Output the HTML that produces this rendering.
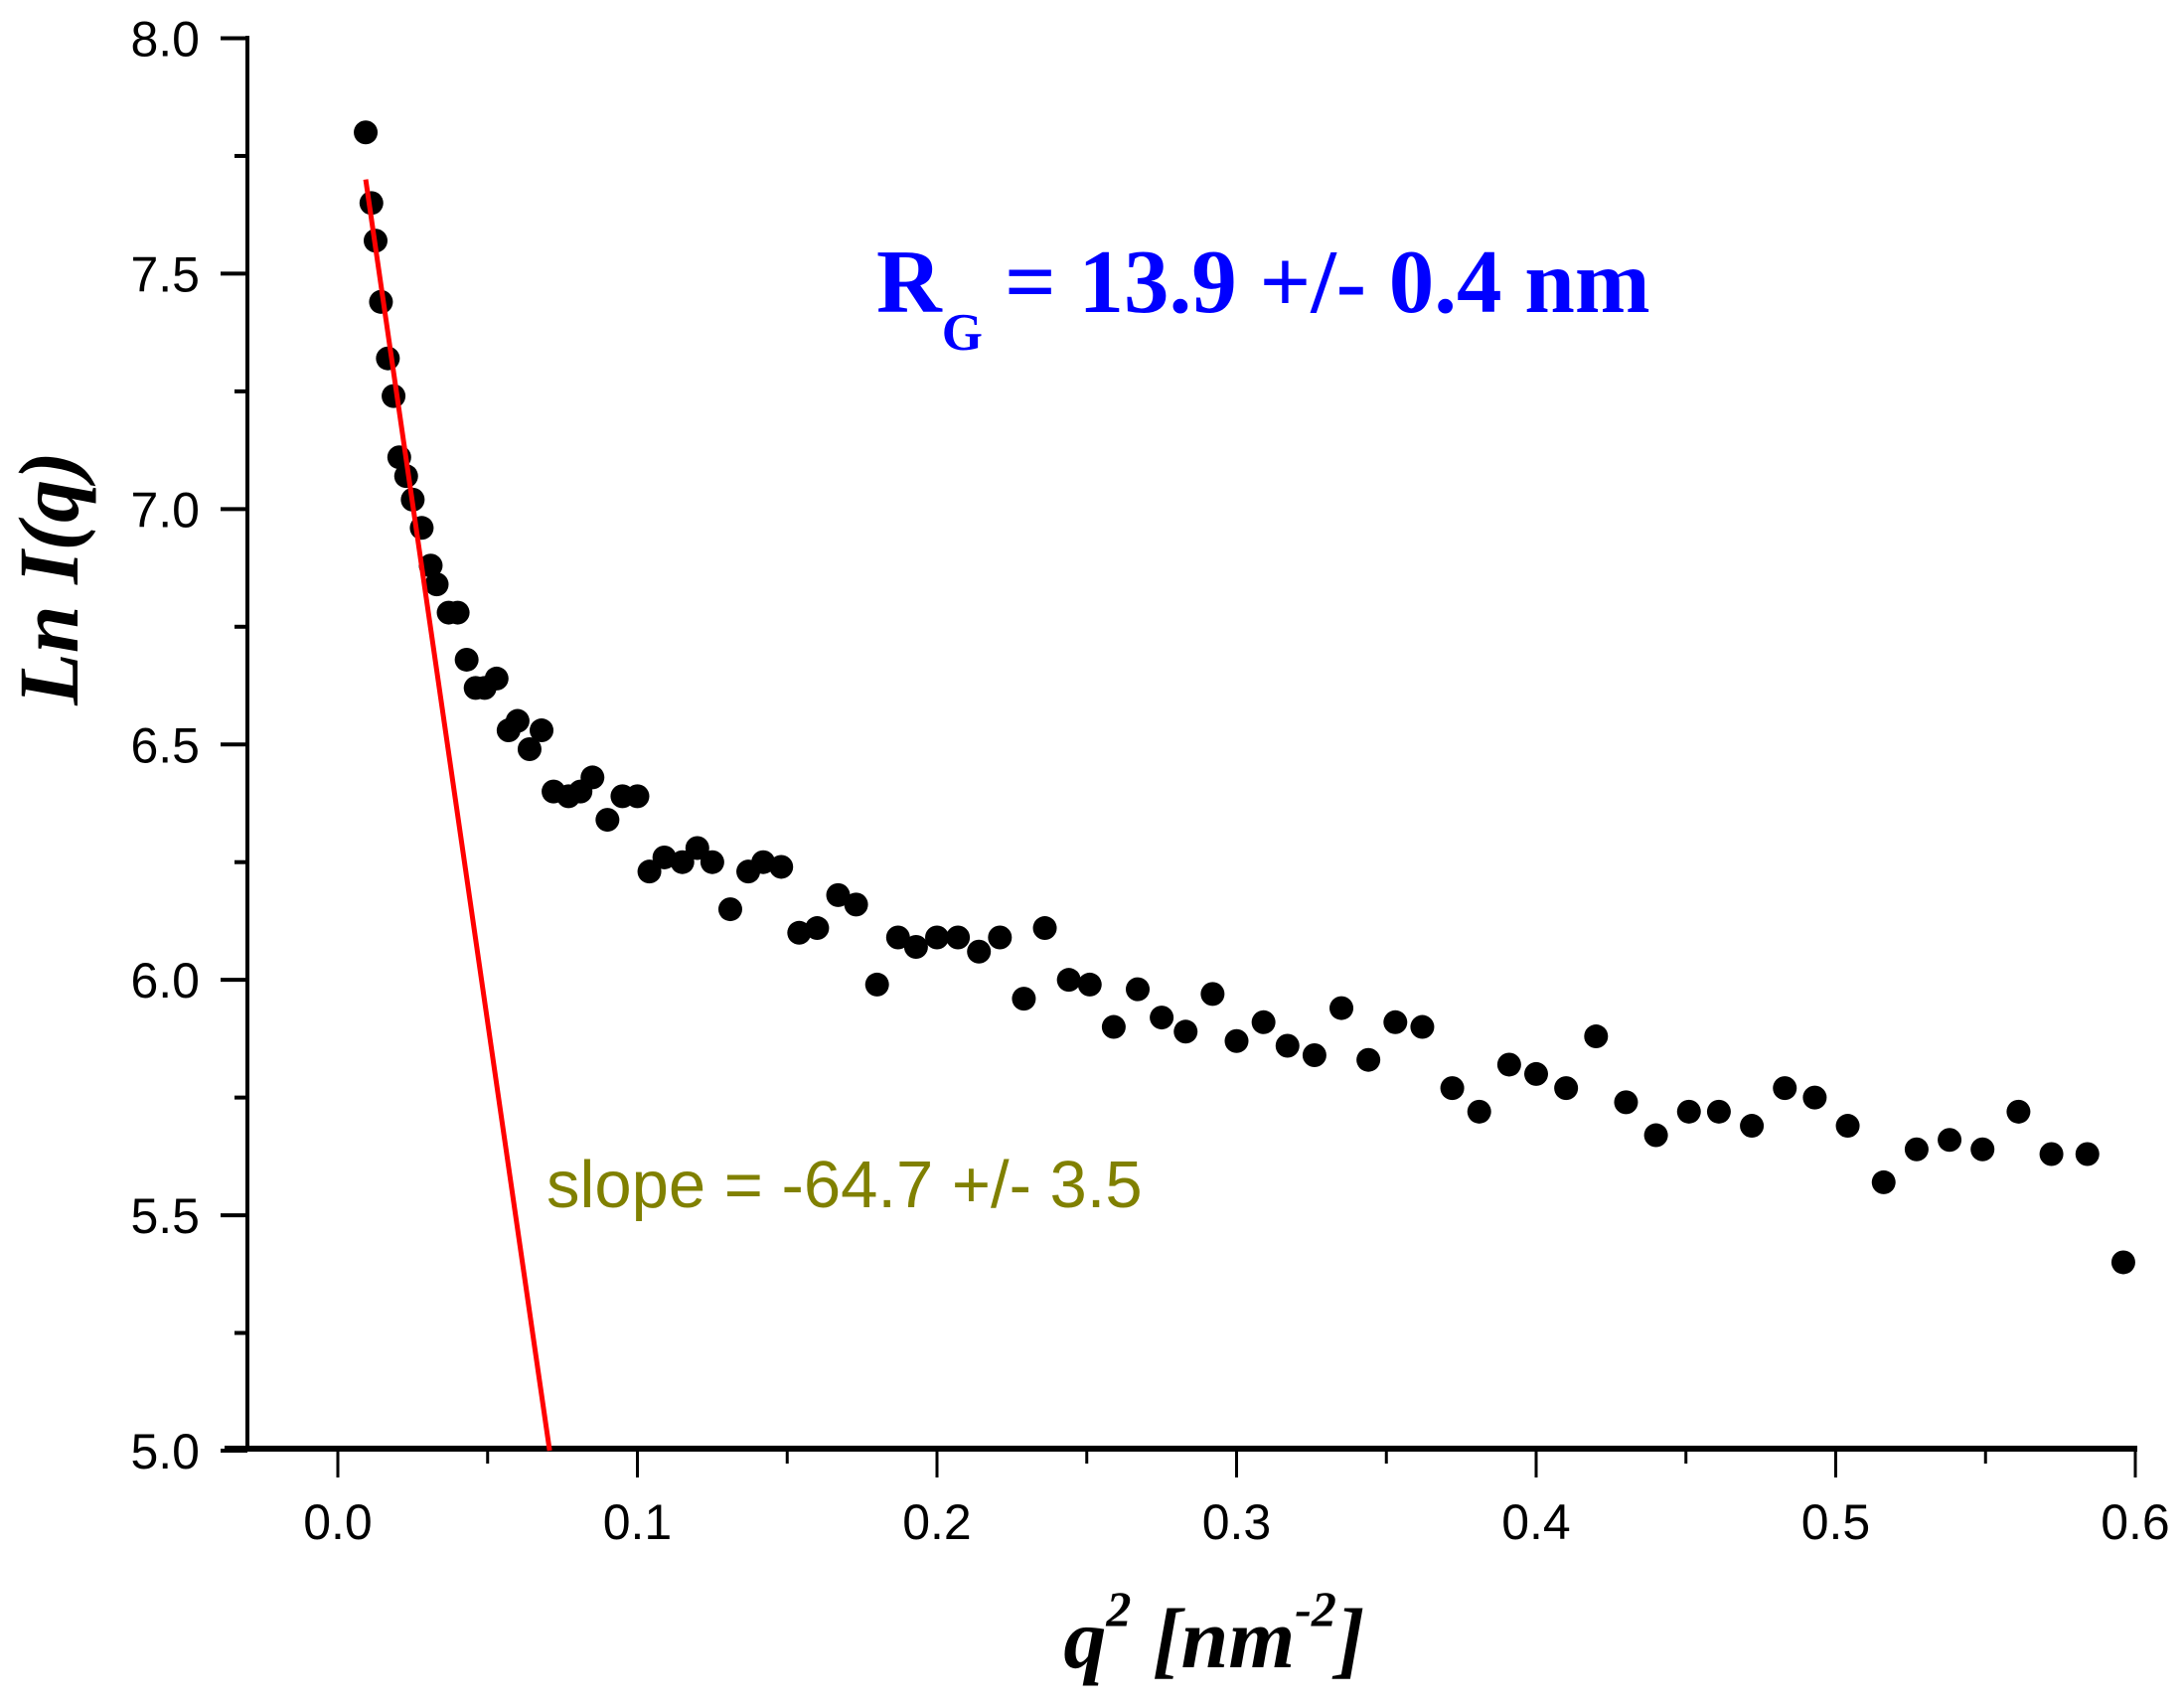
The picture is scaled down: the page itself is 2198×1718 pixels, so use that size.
<!DOCTYPE html>
<html><head><meta charset="utf-8"><style>
html,body{margin:0;padding:0;background:#fff;}
svg{display:block;}
</style></head><body>
<svg id="chart" width="2198" height="1718" viewBox="0 0 2198 1718" xmlns="http://www.w3.org/2000/svg">
<g id="axes"></g>
<g id="marks"></g>
<text x="882" y="314" font-family="Liberation Serif, serif" font-weight="bold" font-size="91" fill="#0000ff">R<tspan font-size="53" dy="38">G</tspan><tspan dy="-38" dx="22">= 13.9 +/- 0.4 nm</tspan></text>
<text x="550" y="1215" font-family="Liberation Sans, sans-serif" font-size="67" fill="#808000">slope = -64.7 +/- 3.5</text>
<text transform="translate(78,582) rotate(-90)" text-anchor="middle" font-family="Liberation Serif, serif" font-weight="bold" font-style="italic" font-size="86" fill="#000">Ln I(q)</text>
<text x="1222" y="1678" text-anchor="middle" font-family="Liberation Serif, serif" font-weight="bold" font-style="italic" font-size="86" fill="#000">q<tspan font-size="50" dy="-42">2</tspan><tspan dy="42"> [nm</tspan><tspan font-size="50" dy="-42">-2</tspan><tspan dy="42">]</tspan></text>
</svg>
<script>
const xs = [0.0093,0.0112,0.0126,0.0144,0.0167,0.0186,0.0205,0.0228,0.025,0.028,0.031,0.033,0.037,0.040,0.043,0.046,0.049,0.053,0.057,0.060,0.064,0.068,0.072,0.077,0.081,0.085,0.090,0.095,0.100,0.104,0.109,0.115,0.120,0.125,0.131,0.137,0.142,0.148,0.154,0.160,0.167,0.173,0.180,0.187,0.193,0.200,0.207,0.214,0.221,0.229,0.236,0.244,0.251,0.259,0.267,0.275,0.283,0.292,0.300,0.309,0.317,0.326,0.335,0.344,0.353,0.362,0.372,0.381,0.391,0.400,0.410,0.420,0.430,0.440,0.451,0.461,0.472,0.483,0.493,0.504,0.516,0.527,0.538,0.549,0.561,0.572,0.584,0.596];
const ys = [7.80,7.65,7.57,7.44,7.32,7.24,7.11,7.07,7.02,6.96,6.88,6.84,6.78,6.78,6.68,6.62,6.62,6.64,6.53,6.55,6.49,6.53,6.40,6.39,6.40,6.43,6.34,6.39,6.39,6.23,6.26,6.25,6.28,6.25,6.15,6.23,6.25,6.24,6.10,6.11,6.18,6.16,5.99,6.09,6.07,6.09,6.09,6.06,6.09,5.96,6.11,6.00,5.99,5.90,5.98,5.92,5.89,5.97,5.87,5.91,5.86,5.84,5.94,5.83,5.91,5.90,5.77,5.72,5.82,5.80,5.77,5.88,5.74,5.67,5.72,5.72,5.69,5.77,5.75,5.69,5.57,5.64,5.66,5.64,5.72,5.63,5.63,5.40];
const fitX = [0.0093,0.0707];
const fitY = [7.70,5.00];
const xTicks = [0.0,0.1,0.2,0.3,0.4,0.5,0.6];
const xTickLabels = ["0.0","0.1","0.2","0.3","0.4","0.5","0.6"];
const yTicks = [5.0,5.5,6.0,6.5,7.0,7.5,8.0];
const yTickLabels = ["5.0","5.5","6.0","6.5","7.0","7.5","8.0"];

const NS="http://www.w3.org/2000/svg";
const X = v => 340 + (v-0)*(2149-340)/0.6;
const Y = v => 1460 - (v-5)*(1460-38.5)/3;
function mk(tag, attrs, parent){const e=document.createElementNS(NS,tag);for(const k in attrs)e.setAttribute(k,attrs[k]);parent.appendChild(e);return e;}
const axes=document.getElementById('axes'), marks=document.getElementById('marks');
let e;
e=mk('line',{x1:249,y1:36,x2:249,y2:1460,stroke:'#000','stroke-width':4},axes);


e=mk('line',{x1:226,y1:1458,x2:2151,y2:1458,stroke:'#000','stroke-width':6},axes);


xTicks.forEach((t,i)=>{
  e=mk('line',{x1:X(t),y1:1458,x2:X(t),y2:1487,stroke:'#000','stroke-width':3},axes);
  
  
  e=mk('text',{x:X(t),y:1549,'text-anchor':'middle','font-family':'Liberation Sans, sans-serif','font-size':50,fill:'#000'},axes);
  e.textContent=xTickLabels[i];
  
  
  if(i<xTicks.length-1){
    e=mk('line',{x1:X(t+0.05),y1:1458,x2:X(t+0.05),y2:1473,stroke:'#000','stroke-width':3},axes);
    
    
  }
});
yTicks.forEach((t,i)=>{
  e=mk('line',{x1:222,y1:Y(t),x2:249,y2:Y(t),stroke:'#000','stroke-width':4},axes);
  
  
  e=mk('text',{x:201,y:Y(t)+18,'text-anchor':'end','font-family':'Liberation Sans, sans-serif','font-size':50,fill:'#000'},axes);
  e.textContent=yTickLabels[i];
  
  
  if(i<yTicks.length-1){
    e=mk('line',{x1:236,y1:Y(t+0.25),x2:249,y2:Y(t+0.25),stroke:'#000','stroke-width':4},axes);
    
    
  }
});
xs.forEach((x,i)=>{
  e=mk('circle',{cx:X(x),cy:Y(ys[i]),r:12,fill:'#000'},marks);
  
  
});
e=mk('line',{x1:X(fitX[0]),y1:Y(fitY[0]),x2:X(fitX[1]),y2:Y(fitY[1]),stroke:'#ff0000','stroke-width':5},marks);


</script>
</body></html>
